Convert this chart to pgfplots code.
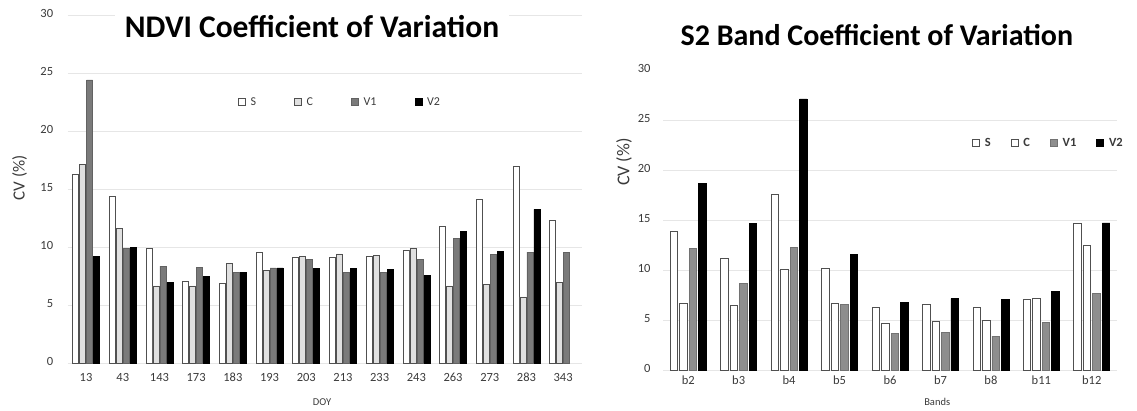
\documentclass[border=0pt]{standalone}
\usepackage{fontspec}
\setmainfont{Carlito}
\usepackage{pgfplots}
\pgfplotsset{compat=1.18}

\definecolor{gridc}{HTML}{E6E6E6}
\definecolor{tickc}{HTML}{3A3A3A}
\definecolor{edgec}{HTML}{505050}
\definecolor{cfill}{HTML}{E0E0E0}
\definecolor{vonel}{HTML}{7A7A7A}
\definecolor{voner}{HTML}{8E8E8E}

\pgfplotsset{
  cvbase/.style={
    scale only axis,
    anchor=south west,
    ymin=0, ymax=30,
    ymajorgrids,
    grid style={gridc, line width=0.8pt},
    axis line style={draw=none},
    major tick length=0pt,
    tick label style={font=\fontsize{12.5}{14}\selectfont, color=tickc},
    typeset ticklabels with strut,
    /pgf/number format/assume math mode=true,
    xtick=data,
    legend cell align=left,
    every axis title shift=0pt,
  },
  sqlegend/.style={
    legend image code/.code={\draw[##1,line width=0.6pt] (0pt,-3.5pt) rectangle (7pt,3.5pt);},
  },
}

\begin{document}
\begin{tikzpicture}
\useasboundingbox (0pt,0pt) rectangle (1137pt,410pt);

% NDVI CV by day of year
\begin{axis}[cvbase,
    at={(67.7pt,47pt)},
    width=513.8pt, height=348pt,
    xmin=-0.5, xmax=13.5,
    ybar=1pt, bar width=6pt,
    sqlegend,
    ytick={0,5,...,30},
    xticklabels={13,43,143,173,183,193,203,213,233,243,263,273,283,343},
    every y tick label/.append style={xshift=-11pt},
    every x tick label/.append style={yshift=-5pt},
    xlabel={DOY},
    xlabel style={at={(axis description cs:0.495,-0.112)}, anchor=center, font=\fontsize{10.5}{12}\selectfont, color=tickc},
    ylabel={CV (\%)},
    ylabel style={at={(axis description cs:-0.0934,0.532)}, anchor=center, font=\fontsize{17}{20}\selectfont, color=tickc},
    title={NDVI Coefficient of Variation},
    title style={at={(axis description cs:0.4755,0.934)}, anchor=base, font=\fontsize{31.5}{36}\selectfont\bfseries, fill=white, inner xsep=10pt, inner ysep=9pt},
    legend columns=4,
    legend style={draw=none, fill=none, inner sep=0pt, at={(axis description cs:0.331,0.75)}, anchor=west, font=\fontsize{12}{14}\selectfont, text=tickc, /tikz/every odd column/.append style={column sep=3pt}, /tikz/every even column/.append style={column sep=36pt}},
  ]
  \addplot[fill=white, draw=edgec, line width=0.7pt] coordinates {(0,16.3) (1,14.4) (2,9.9) (3,7.0) (4,6.85) (5,9.55) (6,9.1) (7,9.15) (8,9.2) (9,9.75) (10,11.8) (11,14.1) (12,16.95) (13,12.3)};
  \addplot[fill=cfill, draw=edgec, line width=0.7pt] coordinates {(0,17.1) (1,11.6) (2,6.65) (3,6.65) (4,8.6) (5,8.0) (6,9.2) (7,9.4) (8,9.3) (9,9.9) (10,6.65) (11,6.8) (12,5.7) (13,6.95)};
  \addplot[fill=vonel, draw=vonel!80!black, line width=0.7pt] coordinates {(0,24.4) (1,9.85) (2,8.35) (3,8.25) (4,7.8) (5,8.2) (6,8.9) (7,7.8) (8,7.8) (9,8.9) (10,10.75) (11,9.35) (12,9.55) (13,9.5)};
  \addplot[fill=black, draw=black, line width=0.7pt] coordinates {(0,9.2) (1,9.95) (2,6.95) (3,7.45) (4,7.8) (5,8.2) (6,8.15) (7,8.15) (8,8.1) (9,7.55) (10,11.35) (11,9.65) (12,13.25)};
  \legend{S,C,V1,V2}
\end{axis}

% Sentinel-2 band CV
\begin{axis}[cvbase,
    at={(663pt,40pt)},
    width=454pt, height=300pt,
    xmin=-0.5, xmax=8.5,
    ybar=2pt, bar width=7.5pt,
    sqlegend,
    ytick={0,5,...,25},
    extra y ticks={30},
    extra y tick style={grid=none},
    xticklabels={b2,b3,b4,b5,b6,b7,b8,b11,b12},
    every y tick label/.append style={xshift=-9pt},
    every x tick label/.append style={yshift=-1pt},
    xlabel={Bands},
    xlabel style={at={(axis description cs:0.604,-0.107)}, anchor=center, font=\fontsize{10.5}{12}\selectfont, color=tickc},
    ylabel={CV (\%)},
    ylabel style={at={(axis description cs:-0.0859,0.693)}, anchor=center, font=\fontsize{18}{21}\selectfont, color=tickc},
    title={S2 Band Coefficient of Variation},
    title style={at={(axis description cs:0.471,1.083)}, anchor=base, font=\fontsize{30}{35}\selectfont\bfseries},
    legend columns=4,
    legend style={draw=none, fill=none, inner sep=0pt, at={(axis description cs:0.681,0.757)}, anchor=west, font=\fontsize{12.5}{14}\selectfont\bfseries, text=tickc, /tikz/every odd column/.append style={column sep=3pt}, /tikz/every even column/.append style={column sep=18pt}},
  ]
  \addplot[fill=white, draw=edgec, line width=0.7pt] coordinates {(0,13.85) (1,11.2) (2,17.55) (3,10.2) (4,6.3) (5,6.55) (6,6.25) (7,7.05) (8,14.7)};
  \addplot[fill=white, draw=edgec, line width=0.7pt] coordinates {(0,6.7) (1,6.45) (2,10.1) (3,6.65) (4,4.65) (5,4.85) (6,5.0) (7,7.15) (8,12.45)};
  \addplot[fill=voner, draw=voner!80!black, line width=0.7pt] coordinates {(0,12.15) (1,8.65) (2,12.3) (3,6.55) (4,3.65) (5,3.75) (6,3.4) (7,4.75) (8,7.65)};
  \addplot[fill=black, draw=black, line width=0.7pt] coordinates {(0,18.65) (1,14.65) (2,27.1) (3,11.6) (4,6.75) (5,7.15) (6,7.05) (7,7.85) (8,14.7)};
  \legend{S,C,V1,V2}
\end{axis}
\end{tikzpicture}
\end{document}
